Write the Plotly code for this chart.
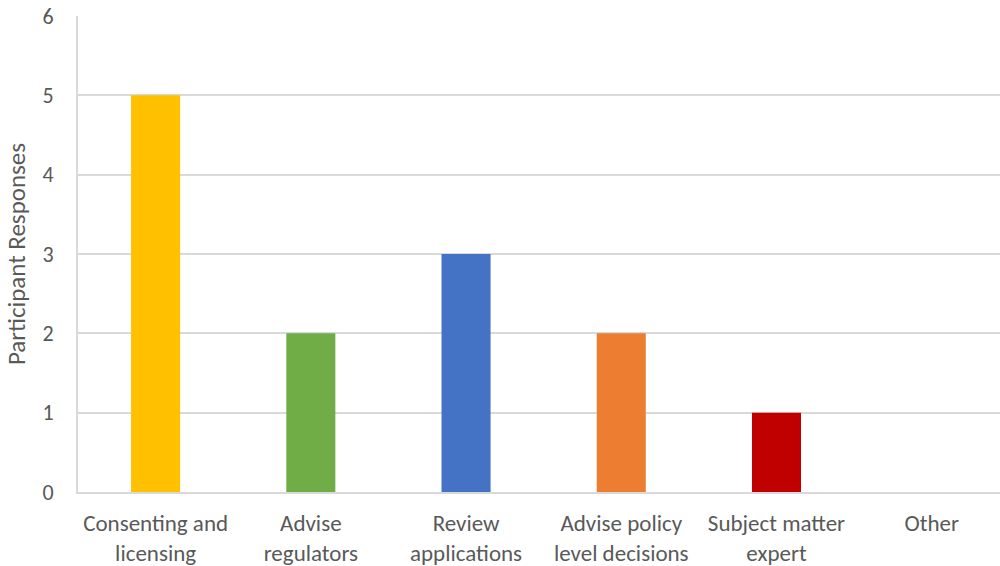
import plotly.graph_objects as go

categories = [
    "Consenting and<br>licensing",
    "Advise<br>regulators",
    "Review<br>applications",
    "Advise policy<br>level decisions",
    "Subject matter<br>expert",
    "Other",
]
responses = [5, 2, 3, 2, 1, 0]
bar_colors = ["#FFC000", "#70AD47", "#4472C4", "#ED7D31", "#C00000", "#A5A5A5"]

text_color = "#595959"
grid_color = "#D9D9D9"
font_family = "Carlito, Lato, 'Open Sans', sans-serif"

fig = go.Figure(
    go.Bar(
        x=list(range(len(categories))),
        y=responses,
        marker=dict(color=bar_colors, line=dict(width=0)),
        width=0.316,
        hoverinfo="skip",
    )
)

fig.update_layout(
    width=1000,
    height=566,
    margin=dict(l=78, r=0, t=16, b=74),
    plot_bgcolor="white",
    paper_bgcolor="white",
    showlegend=False,
    font=dict(family=font_family, color=text_color, size=22),
)

fig.update_xaxes(
    range=[-0.5, 5.44],
    tickmode="array",
    tickvals=list(range(len(categories))),
    ticktext=categories,
    showgrid=False,
    showline=True,
    linecolor=grid_color,
    linewidth=2,
    ticks="",
    ticklabelstandoff=9,
    tickfont=dict(size=23, color=text_color),
    zeroline=False,
)

fig.update_yaxes(
    range=[0, 6],
    dtick=1,
    showgrid=True,
    gridcolor=grid_color,
    gridwidth=1.5,
    showline=True,
    linecolor=grid_color,
    linewidth=2,
    ticks="",
    ticklabelstandoff=18,
    tickfont=dict(size=22, color=text_color),
    zeroline=False,
    title=dict(text="Participant Responses", font=dict(size=25, color=text_color), standoff=10),
)

fig.write_html("out.html")
